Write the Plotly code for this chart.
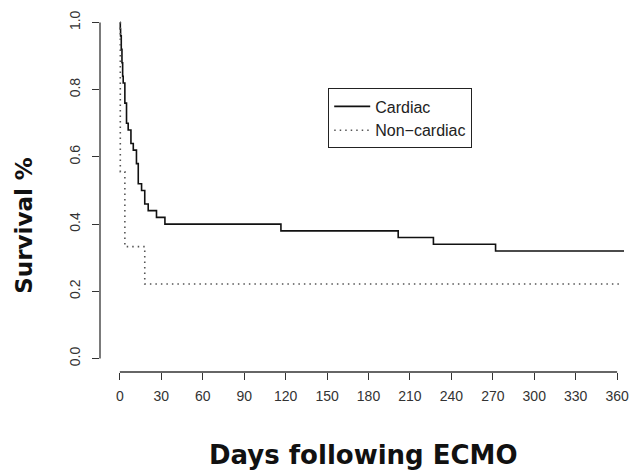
import plotly.graph_objects as go

# Kaplan-Meier step data (days, survival proportion)
cardiac_days = [0, 0.3, 0.5, 1, 1.5, 2, 2.4, 3.6, 4.8, 6, 8, 9.7, 12, 13.3,
                15.7, 18, 20.5, 26.5, 32.6, 116.6, 201.5, 227, 272, 365]
cardiac_surv = [1.0, 0.98, 0.96, 0.92, 0.88, 0.84, 0.82, 0.76, 0.70, 0.68,
                0.64, 0.62, 0.58, 0.52, 0.50, 0.46, 0.44, 0.42, 0.40, 0.38,
                0.36, 0.34, 0.32, 0.32]

noncardiac_days = [0, 0.3, 3.6, 18, 363]
noncardiac_surv = [1.0, 0.556, 0.333, 0.222, 0.222]

x_ticks = [0, 30, 60, 90, 120, 150, 180, 210, 240, 270, 300, 330, 360]
y_ticks = [0.0, 0.2, 0.4, 0.6, 0.8, 1.0]
y_tick_labels = [f"{v:.1f}" for v in y_ticks]

series_names = ["Cardiac", "Non\u2212cardiac"]
x_title = "Days following ECMO"
y_title = "Survival %"

fig = go.Figure()
fig.add_trace(go.Scatter(
    x=cardiac_days, y=cardiac_surv, mode="lines", name=series_names[0],
    line=dict(color="#111111", width=1.6, shape="hv")))
fig.add_trace(go.Scatter(
    x=noncardiac_days, y=noncardiac_surv, mode="lines", name=series_names[1],
    line=dict(color="#555555", width=1.6, shape="hv", dash="1.5px,4px")))

tick_font = dict(family="Liberation Sans, Arial, sans-serif", size=14, color="#333333")
axis_color = "#333333"

fig.update_xaxes(
    range=[-14.4, 374.4], tickmode="array", tickvals=x_ticks,
    ticktext=[str(t) for t in x_ticks], ticks="outside", ticklen=7,
    tickwidth=1.3, tickcolor=axis_color, showgrid=False, zeroline=False,
    showline=False, tickfont=tick_font, ticklabelstandoff=4, automargin=False)
fig.update_yaxes(
    range=[-0.04, 1.04], tickmode="array", tickvals=y_ticks,
    ticktext=y_tick_labels, ticks="outside", ticklen=7, tickwidth=1.3,
    tickcolor=axis_color, showgrid=False, zeroline=False, showline=False,
    tickfont=tick_font, tickangle=-90, ticklabelstandoff=6, automargin=False)

# R-style detached axis lines spanning first to last tick
fig.add_shape(type="line", xref="x", yref="paper", x0=min(x_ticks), x1=max(x_ticks),
              y0=0, y1=0, line=dict(color=axis_color, width=1.3))
fig.add_shape(type="line", xref="paper", yref="y", x0=0, x1=0,
              y0=min(y_ticks), y1=max(y_ticks), line=dict(color=axis_color, width=1.3))

fig.add_annotation(text=f"<b>{x_title}</b>", xref="paper", yref="paper",
                   x=0.4916, y=-0.228, xanchor="center", yanchor="middle",
                   showarrow=False,
                   font=dict(family="DejaVu Sans, Verdana, sans-serif", size=26, color="#111111"))
fig.add_annotation(text=f"<b>{y_title}</b>", xref="paper", yref="paper",
                   x=-0.142, y=0.405, xanchor="center", yanchor="middle",
                   textangle=-90, showarrow=False,
                   font=dict(family="DejaVu Sans, Verdana, sans-serif", size=23, color="#111111"))

# page body keeps its default 8px margin, so the figure is sized to fit inside it
fig.update_layout(
    width=634, height=464,
    margin=dict(l=92, r=5, t=0.5, b=99.5, autoexpand=False),
    paper_bgcolor="white", plot_bgcolor="white",
    showlegend=True,
    legend=dict(x=0.4246, y=0.7816, xanchor="left", yanchor="top",
                bordercolor="#222222", borderwidth=1.2, bgcolor="white",
                font=dict(family="Liberation Sans, Arial, sans-serif", size=16, color="#222222"),
                tracegroupgap=0, itemwidth=36),
)

fig.write_html("out.html")
